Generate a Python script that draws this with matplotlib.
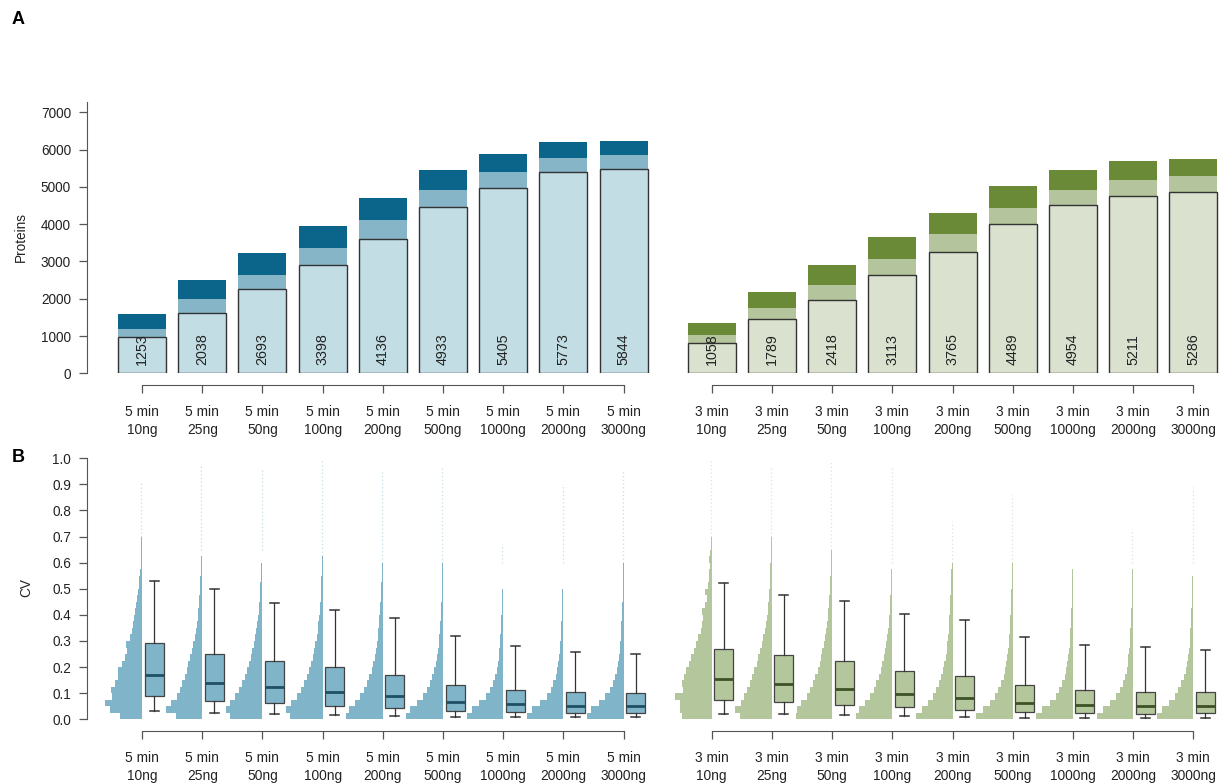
import numpy as np
import matplotlib
matplotlib.use("Agg")
import matplotlib.pyplot as plt

plt.rcParams['font.family'] = ['Liberation Sans', 'DejaVu Sans']

# ---- data ----
amounts = ["10ng", "25ng", "50ng", "100ng", "200ng", "500ng", "1000ng", "2000ng", "3000ng"]
labels_5 = ["5 min\n" + a for a in amounts]
labels_3 = ["3 min\n" + a for a in amounts]

# panel A: stacked protein ids (box / middle / top segments)
p5_box = [965, 1625, 2250, 2902, 3607, 4464, 4973, 5384, 5482]
p5_mid = [1190, 1990, 2643, 3366, 4107, 4920, 5402, 5768, 5857]
p5_top = [1580, 2509, 3214, 3946, 4705, 5438, 5866, 6196, 6223]
p5_num = [1253, 2038, 2693, 3398, 4136, 4933, 5405, 5773, 5844]

p3_box = [802, 1444, 1961, 2630, 3263, 4003, 4502, 4761, 4850]
p3_mid = [1034, 1738, 2371, 3076, 3735, 4440, 4912, 5189, 5278]
p3_top = [1346, 2175, 2915, 3646, 4297, 5010, 5456, 5688, 5741]
p3_num = [1058, 1789, 2418, 3113, 3765, 4489, 4954, 5211, 5286]

# panel B: CV histograms, counts per 0.025 bin starting at 0
bin_w = 0.025
h5 = [
    [65, 95, 108, 88, 92, 80, 70, 70, 58, 50, 43, 48, 34, 30, 28, 24, 20, 18, 14, 12, 10, 10, 6, 4, 3, 3, 2, 2],
    [75, 105, 90, 72, 65, 58, 50, 45, 40, 35, 30, 25, 21, 19, 16, 13, 11, 10, 8, 7, 6, 5, 4, 3, 3, 2],
    [95, 108, 95, 80, 68, 60, 52, 46, 40, 35, 30, 25, 21, 18, 15, 12, 10, 9, 8, 7, 6, 5, 4, 3, 2, 2],
    [95, 108, 92, 75, 63, 55, 47, 40, 34, 29, 25, 21, 17, 15, 13, 10, 9, 7, 6, 5, 4, 4, 3, 3, 2],
    [110, 102, 85, 68, 57, 48, 40, 33, 28, 23, 20, 17, 15, 13, 11, 10, 8, 7, 6, 5, 4, 3, 3, 2],
    [110, 100, 78, 60, 48, 40, 32, 26, 21, 18, 15, 13, 11, 10, 8, 7, 6, 5, 4, 4, 3, 3, 2, 2],
    [110, 95, 72, 52, 40, 32, 25, 20, 17, 14, 12, 10, 9, 8, 7, 6, 5, 4, 3, 3, 2, 2, 2, 1],
    [110, 95, 70, 50, 38, 30, 23, 18, 15, 13, 11, 9, 8, 7, 6, 5, 4, 4, 3, 3, 2, 2, 1, 1],
    [110, 98, 75, 55, 42, 33, 26, 20, 16, 14, 12, 10, 9, 8, 7, 6, 5, 4, 3, 3, 2, 2, 1, 1],
]
h3 = [
    [85, 92, 92, 105, 82, 85, 80, 75, 65, 58, 50, 45, 38, 32, 28, 26, 28, 18, 14, 18, 10, 8, 7, 6, 8, 4, 2, 2],
    [88, 100, 85, 75, 68, 60, 54, 48, 42, 37, 32, 27, 24, 20, 17, 14, 12, 10, 9, 7, 6, 5, 4, 4, 3, 3, 2, 2],
    [105, 102, 88, 72, 62, 55, 48, 41, 36, 32, 28, 24, 20, 17, 15, 13, 11, 10, 8, 7, 6, 5, 4, 3, 2, 2],
    [108, 98, 80, 65, 55, 47, 40, 34, 29, 25, 21, 18, 15, 13, 11, 9, 8, 7, 6, 5, 4, 3, 3, 2],
    [108, 90, 72, 58, 48, 40, 33, 28, 24, 20, 17, 15, 13, 11, 10, 9, 8, 7, 6, 5, 4, 3, 3, 2],
    [108, 88, 68, 52, 42, 34, 27, 22, 19, 16, 14, 12, 10, 9, 8, 7, 6, 5, 4, 4, 3, 3, 2, 2],
    [108, 92, 68, 50, 40, 31, 24, 19, 16, 14, 12, 10, 9, 8, 7, 6, 5, 4, 4, 3, 3, 2, 2, 1],
    [108, 90, 68, 50, 40, 31, 24, 19, 16, 14, 12, 10, 9, 8, 7, 6, 5, 4, 4, 3, 3, 2, 2, 1],
    [108, 92, 72, 55, 44, 35, 28, 22, 18, 15, 13, 11, 10, 9, 8, 7, 6, 5, 4, 4, 3, 3, 2, 2],
]
tail5 = [0.91, 0.98, 0.96, 0.99, 0.96, 0.97, 0.67, 0.90, 0.96]
tail3 = [0.99, 0.97, 0.99, 0.97, 0.76, 0.86, 0.60, 0.73, 0.89]

# boxplot stats: whisker low, q1, median, q3, whisker high
b5_lo = [0.032, 0.026, 0.020, 0.017, 0.014, 0.009, 0.008, 0.008, 0.009]
b5_q1 = [0.091, 0.072, 0.061, 0.052, 0.045, 0.032, 0.027, 0.023, 0.025]
b5_md = [0.171, 0.140, 0.123, 0.103, 0.089, 0.065, 0.057, 0.052, 0.051]
b5_q3 = [0.291, 0.250, 0.225, 0.202, 0.170, 0.132, 0.112, 0.103, 0.099]
b5_hi = [0.530, 0.498, 0.447, 0.419, 0.387, 0.318, 0.281, 0.259, 0.250]

b3_lo = [0.019, 0.019, 0.018, 0.013, 0.009, 0.005, 0.005, 0.005, 0.004]
b3_q1 = [0.074, 0.066, 0.056, 0.047, 0.037, 0.027, 0.023, 0.020, 0.023]
b3_md = [0.153, 0.135, 0.115, 0.098, 0.083, 0.064, 0.055, 0.052, 0.052]
b3_q3 = [0.269, 0.245, 0.222, 0.186, 0.165, 0.130, 0.112, 0.106, 0.106]
b3_hi = [0.521, 0.478, 0.455, 0.404, 0.379, 0.315, 0.284, 0.278, 0.266]

# ---- colours ----
blue_light, blue_mid, blue_dark = "#c3dde4", "#86b5c8", "#0b6489"
green_light, green_mid, green_dark = "#dae2cf", "#b4c49c", "#6b8a38"
blue_hist, blue_med = "#80b5c9", "#1f4f62"
green_hist, green_med = "#b4c69b", "#3c5325"
axc = "#555555"
txt = "#222222"

W, H = 1220, 784
fig = plt.figure(figsize=(W / 100, H / 100), dpi=100)


def px_axes(x0, ytop, x1, ybot):
    return fig.add_axes([x0 / W, 1 - ybot / H, (x1 - x0) / W, (ybot - ytop) / H])


pitch = 60.2
x = np.arange(9)


def style(ax, labels, ylabel_on, ymax_spine, yticks, fmt=None):
    for s in ["top", "right"]:
        ax.spines[s].set_visible(False)
    ax.spines["bottom"].set_position(("outward", 8.3))
    ax.spines["bottom"].set_bounds(0, 8)
    ax.spines["bottom"].set_color(axc)
    ax.set_xticks(x)
    ax.set_xticklabels(labels, fontsize=9.9, color=txt, linespacing=1.42)
    ax.tick_params(axis="x", length=5.8, width=0.9, color=axc, pad=8.5)
    if ylabel_on:
        ax.spines["left"].set_bounds(0, ymax_spine)
        ax.spines["left"].set_color(axc)
        ax.set_yticks(yticks)
        if fmt:
            ax.set_yticklabels([fmt % v for v in yticks])
        ax.tick_params(axis="y", length=5.8, width=0.9, color=axc, pad=6,
                       labelsize=9.8, labelcolor=txt)
    else:
        ax.spines["left"].set_visible(False)
        ax.set_yticks([])


# ---- panel A ----
bar_w = 48 / pitch
for (x0, x1, t0), box, mid, top, num, labs, cols, yl in [
    ((87.3, 650, 142.0), p5_box, p5_mid, p5_top, p5_num, labels_5, (blue_light, blue_mid, blue_dark), True),
    ((660, 1220, 711.7), p3_box, p3_mid, p3_top, p3_num, labels_3, (green_light, green_mid, green_dark), False),
]:
    ax = px_axes(x0, 100, x1, 373.3)
    ax.set_xlim(-(t0 - x0) / pitch, (x1 - t0) / pitch)
    ax.set_ylim(0, (373.3 - 100) / 0.0373)
    box, mid, top = np.array(box), np.array(mid), np.array(top)
    ax.bar(x, top - mid, bottom=mid, width=bar_w, color=cols[2], linewidth=0, zorder=2)
    ax.bar(x, mid - box, bottom=box, width=bar_w, color=cols[1], linewidth=0, zorder=2)
    ax.bar(x, box, width=bar_w, color=cols[0], edgecolor="#333333", linewidth=1.0, zorder=3)
    for i, n in enumerate(num):
        ax.text(i, 215, str(n), rotation=90, ha="center", va="bottom",
                fontsize=10.3, color=txt, zorder=4)
    style(ax, labs, yl, 7280, np.arange(0, 7001, 1000))
    if yl:
        ax.set_ylabel("Proteins", fontsize=9.8, color=txt)
        ax.yaxis.set_label_coords(-(87.3 - 28) / (x1 - x0), 0.5)

# ---- panel B ----
half = 36.6 / pitch
for (x0, x1, t0), hists, tails, stats, hc, mc, yl, labs in [
    ((87.3, 650, 142.0), h5, tail5, (b5_lo, b5_q1, b5_md, b5_q3, b5_hi), blue_hist, blue_med, True, labels_5),
    ((660, 1220, 711.7), h3, tail3, (b3_lo, b3_q1, b3_md, b3_q3, b3_hi), green_hist, green_med, False, labels_3),
]:
    ax = px_axes(x0, 455, x1, 719.3)
    ax.set_xlim(-(t0 - x0) / pitch, (x1 - t0) / pitch)
    ax.set_ylim(0, (719.3 - 455) / 261)
    for i, h in enumerate(hists):
        h = np.array(h, float)
        edges = np.arange(len(h) + 1) * bin_w
        ax.stairs(i - h / h.max() * half, edges, baseline=i, orientation="horizontal",
                  fill=True, color=hc, linewidth=0, zorder=2)
        ax.plot([i - 0.012, i - 0.012], [edges[-1], tails[i]], color=hc, lw=0.9,
                ls=(0, (1, 2)), alpha=0.45, zorder=2)
    lo, q1, md, q3, hi = stats
    bstats = [dict(whislo=lo[i], q1=q1[i], med=md[i], q3=q3[i], whishi=hi[i]) for i in range(9)]
    ax.bxp(bstats, positions=x + 12 / pitch, widths=19 / pitch, capwidths=9 / pitch,
           showfliers=False, patch_artist=True, manage_ticks=False,
           boxprops=dict(facecolor=hc, edgecolor="#444444", linewidth=0.9),
           medianprops=dict(color=mc, linewidth=2.0),
           whiskerprops=dict(color="#333333", linewidth=0.9),
           capprops=dict(color="#333333", linewidth=1.1), zorder=3)
    style(ax, labs, yl, 1.0, np.round(np.arange(0, 1.01, 0.1), 1), fmt="%.1f")
    if yl:
        ax.set_ylabel("CV", fontsize=9.8, color=txt)
        ax.yaxis.set_label_coords(-(87.3 - 33) / (x1 - x0), 0.5)

fig.text(18 / W, 1 - 20 / H, "A", fontsize=13, fontweight="bold", ha="center", va="center")
fig.text(18 / W, 1 - 458 / H, "B", fontsize=13, fontweight="bold", ha="center", va="center")

fig.savefig("out.png", dpi=100)
